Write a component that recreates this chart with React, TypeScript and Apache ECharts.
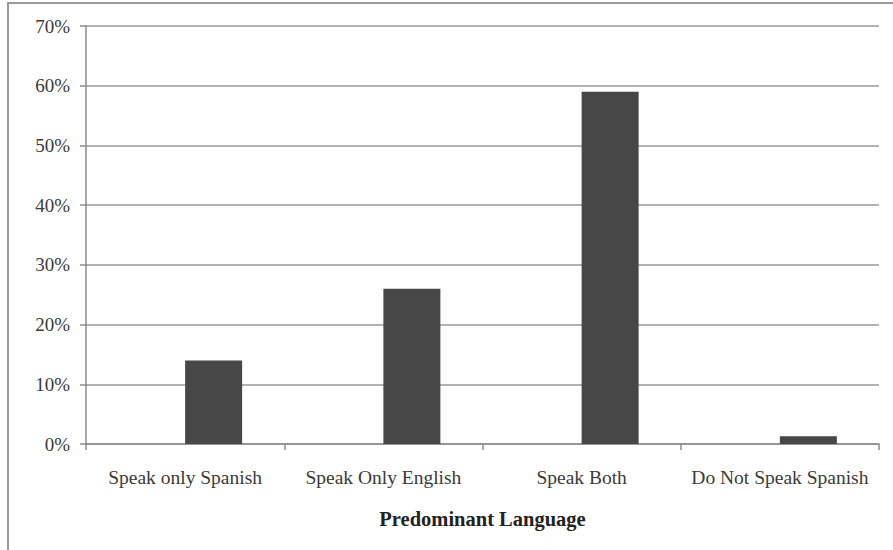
import React, { useEffect, useRef } from "react";
import * as echarts from "echarts";

const categories = ["Speak only Spanish", "Speak Only English", "Speak Both", "Do Not Speak Spanish"];
const values = [14, 26, 59, 1.3];
const placeholder = [null, null, null, null];
const xAxisName = "Predominant Language";

export default function App() {
  const ref = useRef<HTMLDivElement>(null);
  useEffect(() => {
    const chart = echarts.init(ref.current!, null, { renderer: "svg" });
    const font = "'Liberation Serif', 'DejaVu Serif', serif";
    chart.setOption({
      animation: false,
      backgroundColor: "#ffffff",
      textStyle: { fontFamily: font },
      graphic: [
        {
          type: "rect",
          shape: { x: 8, y: 3, width: 900, height: 560 },
          style: { fill: "none", stroke: "#9a9a9a", lineWidth: 2 },
          silent: true,
        },
      ],
      grid: { left: 86, right: 14, top: 26, bottom: 106, containLabel: false },
      xAxis: {
        type: "category",
        data: categories,
        name: xAxisName,
        nameLocation: "middle",
        nameGap: 64,
        nameTextStyle: { fontFamily: font, fontSize: 20.5, fontWeight: "bold", color: "#222" },
        axisLine: { show: true, lineStyle: { color: "#8c8c8c", width: 1.5 } },
        axisTick: { show: true, interval: 0, alignWithLabel: false, length: 6, lineStyle: { color: "#8c8c8c", width: 1.5 } },
        axisLabel: { interval: 0, hideOverlap: false, fontFamily: font, fontSize: 19.5, color: "#3a3a3a", margin: 23 },
        splitLine: { show: false },
      },
      yAxis: {
        type: "value",
        min: 0,
        max: 70,
        interval: 10,
        axisLine: { show: true, lineStyle: { color: "#8c8c8c", width: 1.5 } },
        axisTick: { show: true, length: 6, inside: false, lineStyle: { color: "#8c8c8c", width: 1.5 } },
        axisLabel: { fontFamily: font, fontSize: 19, color: "#3a3a3a", margin: 16, formatter: "{value}%" },
        splitLine: { show: true, lineStyle: { color: "#9a9a9a", width: 1.5 } },
      },
      series: [
        {
          type: "bar",
          data: placeholder,
          barWidth: 57,
          barGap: "0%",
          itemStyle: { color: "#474747" },
        },
        {
          type: "bar",
          data: values,
          barWidth: 57,
          barGap: "0%",
          itemStyle: { color: "#474747" },
        },
      ],
    });
    return () => chart.dispose();
  }, []);
  return <div ref={ref} style={{ position: "fixed", left: 0, top: 0, width: 893, height: 550 }} />;
}
